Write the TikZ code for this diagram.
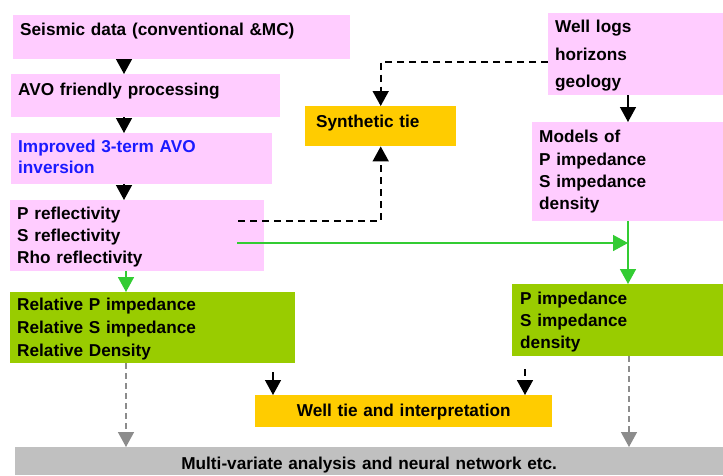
\documentclass[tikz,border=0pt]{standalone}
\usepackage{fontspec}
\setmainfont{Liberation Sans}
\definecolor{pinkbox}{RGB}{255, 204, 255}
\definecolor{limebox}{RGB}{153, 204, 0}
\definecolor{ambbox}{RGB}{255, 204, 0}
\definecolor{greybox}{RGB}{192, 192, 192}
\definecolor{grnline}{RGB}{51, 204, 51}
\definecolor{bluetxt}{RGB}{26, 26, 255}
\usetikzlibrary{arrows.meta}

\begin{document}
\begin{tikzpicture}[x=1pt, y=-1pt,
  every node/.style={font=\bfseries\fontsize{17.2}{22}\selectfont},
  box/.style={anchor=north west, inner xsep=7pt, inner ysep=0pt, align=left},
  tip/.style={-{Triangle[length=15pt, width=16pt]}},
  blk/.style={tip, line width=1.4pt, black},
  dsh/.style={tip, line width=1.7pt, black, dash pattern=on 7pt off 5pt},
  grn/.style={tip, line width=1.6pt, grnline},
  gry/.style={tip, line width=1.4pt, gray!90, dash pattern=on 6pt off 4pt}]
  \useasboundingbox (0,0) rectangle (723,475);

  % Left column
  \node[box, fill=pinkbox, text width=323pt, text height=20.5pt, text depth=23.5pt]
    (seis) at (13,15) {Seismic data (conventional \&MC)};
  \node[box, fill=pinkbox, text width=255pt, text height=21.5pt, text depth=21.5pt]
    (avo) at (11,74) {AVO friendly processing};
  \node[box, fill=pinkbox, text=bluetxt, text width=247pt, text height=19.5pt, text depth=31pt,
    font=\bfseries\fontsize{17.2}{20.5}\selectfont]
    (inv) at (11,133) {Improved 3-term AVO\\inversion};
  \node[box, fill=pinkbox, text width=240pt, text height=19.3pt, text depth=51.4pt]
    (refl) at (10,200) {P reflectivity\\S reflectivity\\Rho reflectivity};
  \node[box, fill=limebox, text width=271pt, text height=18.7pt, text depth=52pt,
    font=\bfseries\fontsize{17.2}{22.7}\selectfont]
    (relimp) at (10,292) {Relative P impedance\\Relative S impedance\\Relative Density};

  % Middle
  \node[box, fill=ambbox, inner xsep=11pt, text width=129pt, text height=21.7pt, text depth=18.3pt]
    (synth) at (305,106) {Synthetic tie};
  \node[box, fill=ambbox, align=center, text width=283pt, text height=21.7pt, text depth=10pt]
    (welltie) at (255,395) {Well tie and interpretation};

  % Right column
  \node[box, fill=pinkbox, text width=161pt, text height=20pt, text depth=62.7pt,
    font=\bfseries\fontsize{17.2}{27.5}\selectfont]
    (wells) at (548,12.3) {Well logs\\horizons\\geology};
  \node[box, fill=pinkbox, text width=177pt, text height=20.7pt, text depth=78pt,
    font=\bfseries\fontsize{17.2}{22.3}\selectfont]
    (models) at (532,122) {Models of\\P impedance\\S impedance\\density};
  \node[box, fill=limebox, inner xsep=8pt, text width=195pt, text height=20pt, text depth=51.7pt]
    (pimp) at (512,284) {P impedance\\S impedance\\density};

  % Bottom bar
  \node[box, fill=greybox, align=center, text width=694pt, text height=22.3pt, text depth=5.7pt]
    (multi) at (15,447) {Multi-variate analysis and neural network etc.};

  % Connectors
  \coordinate (lx) at (124,0);
  \coordinate (gx) at (126,0);
  \coordinate (rx) at (628,0);
  \coordinate (gr) at (629,0);
  \coordinate (dstart) at (238,221);
  \coordinate (gstart) at (237,243);
  \coordinate (wa) at (273,372);
  \coordinate (wb) at (525,369);

  \draw[blk] (seis.south -| lx) -- (avo.north -| lx);
  \draw[blk] (avo.south -| lx) -- (inv.north -| lx);
  \draw[blk] (inv.south -| lx) -- (refl.north -| lx);
  \draw[grn] (refl.south -| gx) -- (relimp.north -| gx);
  \draw[blk] (wells.south -| rx) -- (models.north -| rx);

  \draw[dsh] ([yshift=-8pt]wells.west) -| (synth.north);
  \draw[dsh] (dstart) -| (synth.south);

  \draw[grn] (gstart) -- (gstart -| rx);
  \draw[grn] (models.south -| rx) -- (pimp.north -| rx);

  \draw[gry] (relimp.south -| gx) -- (multi.north -| gx);
  \draw[gry] (pimp.south -| gr) -- (multi.north -| gr);

  \draw[blk] (wa) -- (wa |- welltie.north);
  \draw[dsh] (wb) -- (wb |- welltie.north);
\end{tikzpicture}
\end{document}
